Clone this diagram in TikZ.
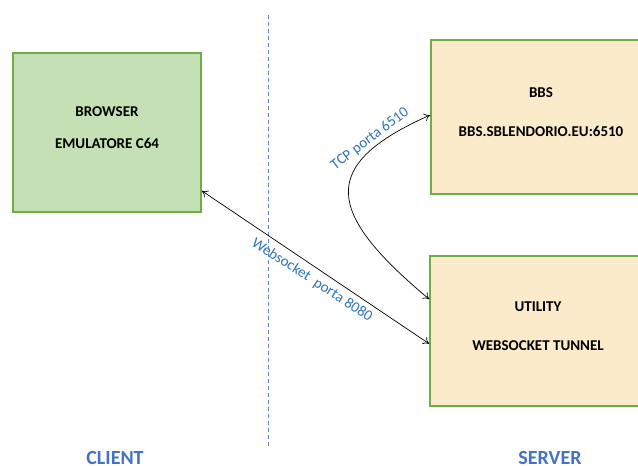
\documentclass[tikz,border=0pt]{standalone}
\usepackage{fontspec}
\setmainfont{Carlito}
\usetikzlibrary{arrows.meta}
\definecolor{clientgreen}{HTML}{C5E0B4}
\definecolor{serverbeige}{HTML}{FBEBCB}
\definecolor{boxborder}{HTML}{70AD47}
\definecolor{labelblue}{HTML}{2E75B6}
\definecolor{sideblue}{HTML}{4472C4}
\begin{document}
\begin{tikzpicture}[x=1pt, y=1pt,
        box/.style={draw=boxborder, line width=1.6pt, align=center, font=\bfseries\fontsize{15}{17}\selectfont, inner sep=0pt},
        portlabel/.style={text=labelblue, font=\fontsize{15}{17}\selectfont, inner sep=0pt},
        side/.style={text=sideblue, font=\bfseries\fontsize{20}{24}\selectfont, inner sep=0pt, anchor=base}]
        \useasboundingbox (0,0) rectangle (638,-466);
        \fill[white] (0,0) rectangle (638,-466);

        \node[box, fill=clientgreen, minimum width=188pt, minimum height=159pt] (browser) at (107,-132.5) {BROWSER \\[15pt] EMULATORE C64 \\[-7pt]};
        \node[box, fill=serverbeige, minimum width=220pt, minimum height=154pt] (bbs) at (541,-117) {BBS \\[22pt] BBS.SBLENDORIO.EU:6510 \\[-7pt]};
        \node[box, fill=serverbeige, minimum width=216pt, minimum height=150pt] (utility) at (538,-331) {UTILITY \\[22pt] WEBSOCKET TUNNEL \\[-7pt]};

        \draw[sideblue!85, dash pattern=on 4pt off 3pt, line width=0.8pt] (268,-15) -- (268,-447);

        \node[side] (client) at (115,-464) {CLIENT};
        \node[side] (server) at (550,-464) {SERVER};

        \draw[{To[length=6pt,width=8pt]}-{To[length=6pt,width=8pt]}, line width=0.7pt] ([yshift=22pt]browser.south east) -- ([yshift=63pt]utility.south west);
        \draw[{To[length=6pt,width=8pt]}-{To[length=6pt,width=8pt]}, line width=0.7pt] ([yshift=2pt]bbs.west) .. controls (318,-165) and (325,-212) .. ([yshift=-44pt]utility.north west);

        \node[portlabel, rotate=37] (tcp) at (370,-139) {TCP porta 6510};
        \node[portlabel, rotate=-33] (websocket) at (312,-280) {Websocket\ \ porta 8080};
    \end{tikzpicture}
\end{document}
